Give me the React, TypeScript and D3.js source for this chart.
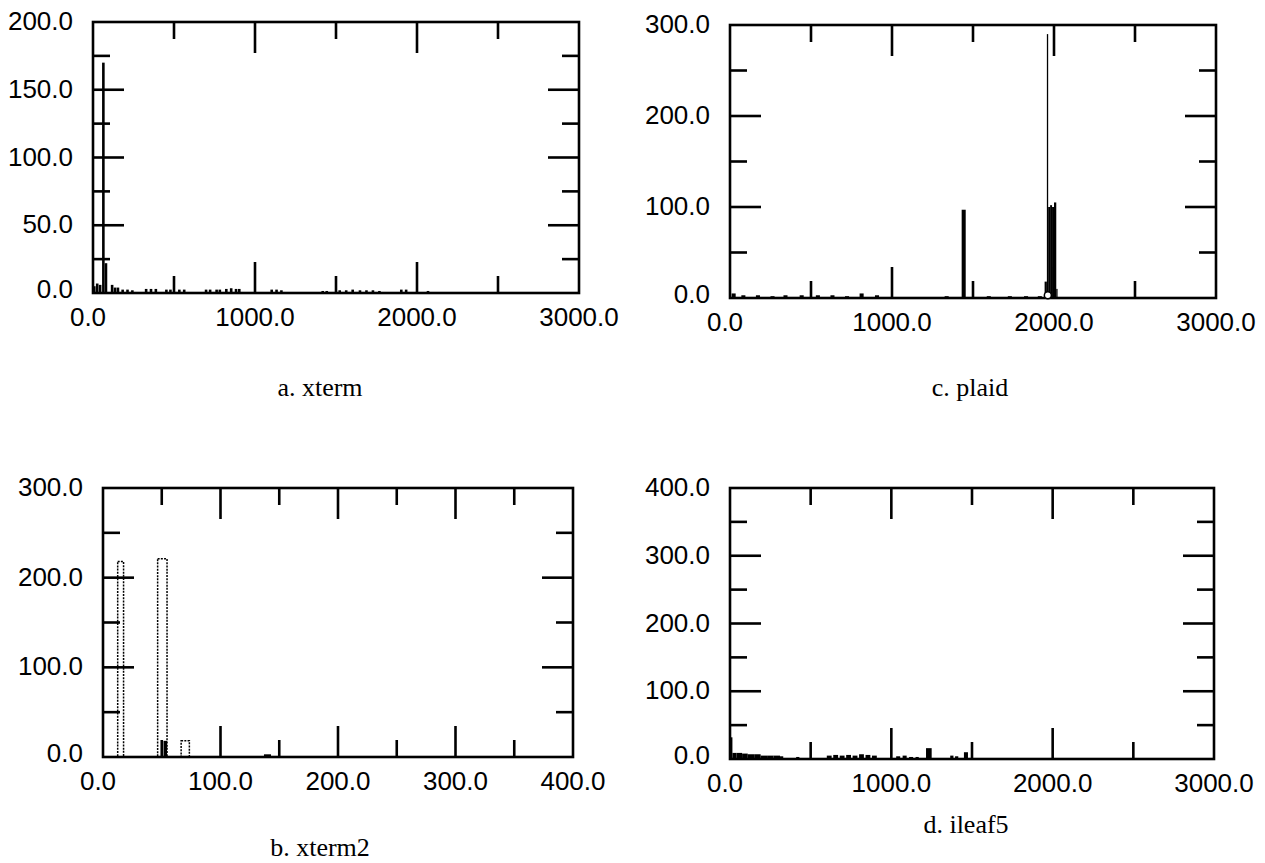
import React, { useEffect, useRef } from "react";
import * as d3 from "d3";

// ---------- data ----------
// a. xterm (bin start, fixed bin width, count)
const xtermBinWidth = 16;
const xtermLo = [0, 18, 36, 56, 72, 110, 128, 146, 175, 205, 235, 320, 350, 380, 445, 470, 525, 555, 690, 715, 755, 775, 815, 845, 875, 895, 1095, 1125, 1155, 1410, 1435, 1515, 1555, 1595, 1640, 1680, 1720, 1760, 1895, 1925, 2060];
const xtermCount = [5, 7, 6, 170, 22, 6, 4, 4, 2.5, 2.5, 2, 3, 3, 3, 2.5, 2.5, 2.5, 2.5, 2.5, 2.5, 2.5, 2.5, 3, 3.5, 3, 3, 2.5, 2.5, 2, 1.5, 1.5, 2, 2, 2.5, 2, 2, 2, 1.5, 2.5, 2.5, 1.5];

// c. plaid (bin lo, bin hi, count)
const plaidLo = [10, 70, 160, 250, 330, 430, 530, 620, 710, 800, 895, 1325, 1430, 1585, 1715, 1815, 1900, 1942, 1956, 1964, 1976, 1988, 2000, 2014];
const plaidHi = [35, 95, 185, 275, 355, 455, 555, 645, 735, 825, 920, 1350, 1455, 1610, 1740, 1840, 1925, 1956, 1964, 1976, 1988, 2000, 2014, 2022];
const plaidCount = [5, 3, 3, 2, 3, 3, 3, 3, 2, 5, 3, 2, 97, 2, 2, 2, 2, 18, 290, 100, 102, 100, 105, 10];
const plaidMarker = [1962, 3];

// b. xterm2 (hollow dotted bars and solid bars)
const xterm2HollowLo = [12.5, 46.5, 66.5];
const xterm2HollowHi = [17.5, 54.5, 73.5];
const xterm2HollowCount = [218, 221, 18];
const xterm2SolidLo = [51.5, 137];
const xterm2SolidHi = [54.5, 143];
const xterm2SolidCount = [18, 3];

// d. ileaf5
const ileafLo = [0, 15, 40, 75, 110, 150, 190, 230, 270, 310, 410, 600, 640, 680, 720, 760, 800, 840, 880, 1030, 1070, 1110, 1150, 1215, 1365, 1395, 1450];
const ileafHi = [15, 40, 75, 110, 150, 190, 230, 270, 310, 330, 430, 630, 670, 710, 750, 790, 830, 870, 910, 1055, 1095, 1135, 1170, 1250, 1385, 1415, 1475];
const ileafCount = [32, 9, 9, 8, 7, 7, 5, 5, 5, 4, 3, 5, 6, 5, 6, 5, 7, 6, 5, 4, 5, 3, 3, 16, 5, 4, 10];

// ticks
const xTicks3000 = [0, 1000, 2000, 3000];
const xTicks400 = [0, 100, 200, 300, 400];
const yTicks200 = [0, 50, 100, 150, 200];
const yTicks300 = [0, 100, 200, 300];
const yTicks400 = [0, 100, 200, 300, 400];

const captions = ["a. xterm", "b. xterm2", "c. plaid", "d. ileaf5"];

type Panel = {
  left: number; right: number; top: number; bottom: number;
  xDomain: [number, number]; yDomain: [number, number];
  xTicks: number[]; yTicks: number[];
  caption: string; capX: number; capY: number;
};

const MAJOR = 31;
const MINOR = 17;
const LABEL_FONT = "'Liberation Sans', Arial, sans-serif";

function drawFrame(g: any, p: Panel) {
  const x = d3.scaleLinear().domain(p.xDomain).range([p.left, p.right]);
  const y = d3.scaleLinear().domain(p.yDomain).range([p.bottom, p.top]);
  const sw = 2.6;
  g.append("rect")
    .attr("x", p.left).attr("y", p.top)
    .attr("width", p.right - p.left).attr("height", p.bottom - p.top)
    .attr("fill", "none").attr("stroke", "#000").attr("stroke-width", sw);

  const xStep = p.xTicks[1] - p.xTicks[0];
  const yStep = p.yTicks[1] - p.yTicks[0];
  const xMajorIn = p.xTicks.slice(1, -1);
  const xMinor = p.xTicks.slice(0, -1).map((t) => t + xStep / 2);
  const yMajorIn = p.yTicks.slice(1, -1);
  const yMinor = p.yTicks.slice(0, -1).map((t) => t + yStep / 2);

  const ticks = g.append("g").attr("stroke", "#000").attr("stroke-width", sw);
  const addX = (vals: number[], len: number) => {
    vals.forEach((v) => {
      ticks.append("line").attr("x1", x(v)).attr("x2", x(v)).attr("y1", p.top).attr("y2", p.top + len);
      ticks.append("line").attr("x1", x(v)).attr("x2", x(v)).attr("y1", p.bottom).attr("y2", p.bottom - len);
    });
  };
  const addY = (vals: number[], len: number) => {
    vals.forEach((v) => {
      ticks.append("line").attr("y1", y(v)).attr("y2", y(v)).attr("x1", p.left).attr("x2", p.left + len);
      ticks.append("line").attr("y1", y(v)).attr("y2", y(v)).attr("x1", p.right).attr("x2", p.right - len);
    });
  };
  addX(xMajorIn, MAJOR);
  addX(xMinor, MINOR);
  addY(yMajorIn, MAJOR);
  addY(yMinor, MINOR);

  const fmt = d3.format(".1f");
  g.append("g").selectAll("text").data(p.xTicks).join("text")
    .attr("x", (d: number) => x(d) - (d === p.xDomain[0] ? 5 : 0))
    .attr("y", p.bottom + 33)
    .attr("text-anchor", "middle")
    .attr("font-family", LABEL_FONT).attr("font-size", 26)
    .text((d: number) => fmt(d));
  g.append("g").selectAll("text").data(p.yTicks).join("text")
    .attr("x", p.left - 20)
    .attr("y", (d: number) => y(d) + (d === p.yDomain[0] ? 5 : 8))
    .attr("text-anchor", "end")
    .attr("font-family", LABEL_FONT).attr("font-size", 26)
    .text((d: number) => fmt(d));
  g.append("text")
    .attr("x", p.capX).attr("y", p.capY)
    .attr("text-anchor", "middle")
    .attr("font-family", "'Liberation Serif', 'Times New Roman', serif")
    .attr("font-size", 26)
    .text(p.caption);
  return { x, y };
}

function drawBars(g: any, x: any, y: any, lo: number[], hi: number[], count: number[]) {
  g.append("g").selectAll("rect").data(count).join("rect")
    .attr("x", (_: number, i: number) => x(lo[i]))
    .attr("width", (_: number, i: number) => Math.max(1, x(hi[i]) - x(lo[i])))
    .attr("y", (d: number) => y(d))
    .attr("height", (d: number) => y(0) - y(d))
    .attr("fill", "#000");
}

export default function App() {
  const ref = useRef<SVGSVGElement>(null);
  useEffect(() => {
    const svg = d3.select(ref.current);
    svg.selectAll("*").remove();

    const pa: Panel = { left: 93, right: 579, top: 22, bottom: 293, xDomain: [0, 3000], yDomain: [0, 200], xTicks: xTicks3000, yTicks: yTicks200, caption: captions[0], capX: 320, capY: 396 };
    const pb: Panel = { left: 103, right: 573, top: 488, bottom: 757, xDomain: [0, 400], yDomain: [0, 300], xTicks: xTicks400, yTicks: yTicks300, caption: captions[1], capX: 320, capY: 856 };
    const pc: Panel = { left: 730, right: 1216, top: 25, bottom: 298, xDomain: [0, 3000], yDomain: [0, 300], xTicks: xTicks3000, yTicks: yTicks300, caption: captions[2], capX: 970, capY: 396 };
    const pd: Panel = { left: 730, right: 1214, top: 488, bottom: 759, xDomain: [0, 3000], yDomain: [0, 400], xTicks: xTicks3000, yTicks: yTicks400, caption: captions[3], capX: 966, capY: 833 };

    // a
    {
      const g = svg.append("g");
      const s = drawFrame(g, pa);
      drawBars(g, s.x, s.y, xtermLo, xtermLo.map((v) => v + xtermBinWidth), xtermCount);
    }
    // c
    {
      const g = svg.append("g");
      const s = drawFrame(g, pc);
      drawBars(g, s.x, s.y, plaidLo, plaidHi, plaidCount);
      g.append("circle")
        .attr("cx", s.x(plaidMarker[0])).attr("cy", s.y(plaidMarker[1]))
        .attr("r", 3.5).attr("fill", "#fff").attr("stroke", "#000").attr("stroke-width", 1.5);
    }
    // b
    {
      const g = svg.append("g");
      const s = drawFrame(g, pb);
      g.append("g").selectAll("rect").data(xterm2HollowCount).join("rect")
        .attr("x", (_: number, i: number) => s.x(xterm2HollowLo[i]))
        .attr("width", (_: number, i: number) => s.x(xterm2HollowHi[i]) - s.x(xterm2HollowLo[i]))
        .attr("y", (d: number) => s.y(d))
        .attr("height", (d: number) => s.y(0) - s.y(d))
        .attr("fill", "none").attr("stroke", "#000").attr("stroke-width", 1.5)
        .attr("stroke-dasharray", "2 1.2");
      drawBars(g, s.x, s.y, xterm2SolidLo, xterm2SolidHi, xterm2SolidCount);
    }
    // d
    {
      const g = svg.append("g");
      const s = drawFrame(g, pd);
      drawBars(g, s.x, s.y, ileafLo, ileafHi, ileafCount);
    }
  }, []);

  return (
    <svg
      ref={ref}
      width={1265}
      height={863}
      style={{ position: "absolute", left: 0, top: 0, background: "#fff" }}
    />
  );
}
